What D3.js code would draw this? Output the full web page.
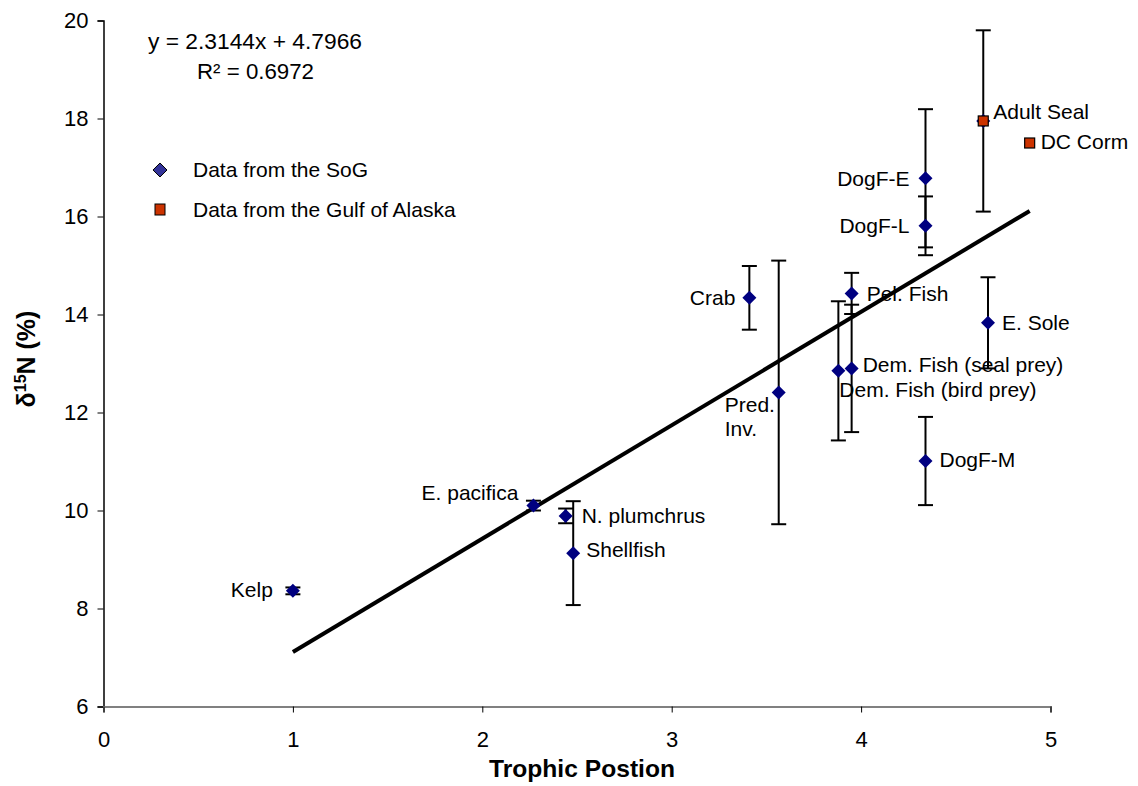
<!DOCTYPE html>
<html>
<head>
<meta charset="utf-8">
<script src="https://cdn.jsdelivr.net/npm/d3@7"></script>
<style>
  body { margin: 0; background: #fff; }
  svg { display: block; font-family: "Liberation Sans", Arial, sans-serif; }
</style>
</head>
<body>
<svg></svg>
<script>
const wSvg = 1138, hSvg = 786;

// data
const names    = ["Kelp", "E. pacifica", "N. plumchrus", "Shellfish", "Crab", "Pred. Inv.",
                  "Dem. Fish (bird prey)", "Dem. Fish (seal prey)", "Pel. Fish", "E. Sole",
                  "DogF-M", "DogF-E", "DogF-L", "Adult Seal", "DC Corm"];
const trophic  = [1.00, 2.27, 2.44, 2.48, 3.41, 3.565, 3.88, 3.95, 3.95, 4.67, 4.34, 4.34, 4.34, 4.645, 4.89];
const d15N     = [8.36, 10.10, 9.89, 9.13, 14.34, 12.41, 12.85, 12.90, 14.43, 13.83, 11.01, 16.78, 15.81, 17.95, 17.50];
const errN     = [0.07, 0.10, 0.15, 1.06, 0.65, 2.69, 1.42, 1.30, 0.42, 0.93, 0.90, 1.41, 0.60, 1.85, 0];
const source   = ["SoG", "SoG", "SoG", "SoG", "SoG", "SoG", "SoG", "SoG", "SoG", "SoG",
                  "SoG", "SoG", "SoG", "GoA", "GoA"];

const xTicks = [0, 1, 2, 3, 4, 5];
const yTicks = [6, 8, 10, 12, 14, 16, 18, 20];

const slope = 2.3144, intercept = 4.7966, rSquared = 0.6972;

const legendItems = [
    { key: "SoG", label: "Data from the SoG" },
    { key: "GoA", label: "Data from the Gulf of Alaska" }
];

// where each data label sits relative to its marker
const labelPlace = {
    "Kelp":                  { anchor: "end",   dx: -20, dy: 6 },
    "E. pacifica":           { anchor: "end",   dx: -15, dy: -6 },
    "N. plumchrus":          { anchor: "start", dx: 16,  dy: 7 },
    "Shellfish":             { anchor: "start", dx: 13,  dy: 4 },
    "Crab":                  { anchor: "end",   dx: -14, dy: 7 },
    "Pred. Inv.":            { anchor: "start", dx: -54, dy: 20 },
    "Dem. Fish (bird prey)": { anchor: "start", dx: 1,   dy: 26 },
    "Dem. Fish (seal prey)": { anchor: "start", dx: 11,  dy: 4 },
    "Pel. Fish":             { anchor: "start", dx: 15,  dy: 8 },
    "E. Sole":               { anchor: "start", dx: 14,  dy: 7 },
    "DogF-M":                { anchor: "start", dx: 14,  dy: 6 },
    "DogF-E":                { anchor: "end",   dx: -16, dy: 8 },
    "DogF-L":                { anchor: "end",   dx: -16, dy: 7 },
    "Adult Seal":            { anchor: "start", dx: 10,  dy: -2 },
    "DC Corm":               { anchor: "start", dx: 11,  dy: 6 }
};

const points = names.map((n, i) => ({
    name: n, x: trophic[i], y: d15N[i], err: errN[i], src: source[i]
}));

const svg = d3.select("svg")
    .attr("width", wSvg)
    .attr("height", hSvg);

const x = d3.scaleLinear().domain([0, 5]).range([103.5, 1050.5]);
const y = d3.scaleLinear().domain([6, 20]).range([706.5, 20.5]);

// axes
const xAxis = svg.append("g")
    .attr("transform", `translate(0,${y(6)})`)
    .call(d3.axisBottom(x).tickValues(xTicks).tickSize(6).tickPadding(19).tickFormat(d3.format("d")));
xAxis.select(".domain").attr("stroke", "#808080").attr("stroke-width", 2);
xAxis.selectAll(".tick line").attr("stroke", "#000");
xAxis.selectAll(".tick text").attr("font-size", 22).attr("fill", "#000")
    .attr("font-family", "Liberation Sans, Arial, sans-serif");

const yAxis = svg.append("g")
    .attr("transform", `translate(${x(0)},0)`)
    .call(d3.axisLeft(y).tickValues(yTicks).tickSize(6).tickPadding(9).tickFormat(d3.format("d")));
yAxis.select(".domain").attr("stroke", "#000").attr("stroke-width", 1.5);
yAxis.selectAll(".tick line").attr("stroke", "#000");
yAxis.selectAll(".tick text").attr("font-size", 22).attr("fill", "#000")
    .attr("font-family", "Liberation Sans, Arial, sans-serif");
// the x axis line is drawn over the y axis end
xAxis.raise();

// axis titles
svg.append("text")
    .attr("x", 582)
    .attr("y", 777)
    .attr("text-anchor", "middle")
    .attr("font-size", 24)
    .attr("font-weight", "bold")
    .attr("textLength", 186)
    .attr("lengthAdjust", "spacingAndGlyphs")
    .text("Trophic Postion");

const yTitle = svg.append("text")
    .attr("transform", `translate(35,359) rotate(-90)`)
    .attr("text-anchor", "middle")
    .attr("font-size", 25)
    .attr("font-weight", "bold");
yTitle.append("tspan").text("δ");
yTitle.append("tspan").attr("font-size", 16).attr("dy", -9).text("15");
yTitle.append("tspan").attr("dy", 9).text("N (%)");

// trend line across the data range
const xExt = d3.extent(trophic);
svg.append("line")
    .attr("x1", x(xExt[0])).attr("y1", y(slope * xExt[0] + intercept))
    .attr("x2", x(xExt[1])).attr("y2", y(slope * xExt[1] + intercept))
    .attr("stroke", "#000")
    .attr("stroke-width", 4);

// error bars
const bars = svg.append("g").selectAll("g")
    .data(points.filter(d => d.err > 0))
    .join("g")
    .attr("stroke", "#000")
    .attr("stroke-width", 2);
bars.append("line")
    .attr("x1", d => x(d.x)).attr("x2", d => x(d.x))
    .attr("y1", d => y(d.y - d.err)).attr("y2", d => y(d.y + d.err));
bars.append("line")
    .attr("x1", d => x(d.x) - 7.5).attr("x2", d => x(d.x) + 7.5)
    .attr("y1", d => y(d.y + d.err)).attr("y2", d => y(d.y + d.err));
bars.append("line")
    .attr("x1", d => x(d.x) - 7.5).attr("x2", d => x(d.x) + 7.5)
    .attr("y1", d => y(d.y - d.err)).attr("y2", d => y(d.y - d.err));

// markers: diamonds for every point, squares on top for Gulf of Alaska
const diamond = d3.symbol().type(d3.symbolDiamond2).size(125);
svg.append("g").selectAll("path")
    .data(points.filter(d => d.name !== "DC Corm"))
    .join("path")
    .attr("d", diamond)
    .attr("transform", d => `translate(${x(d.x)},${y(d.y)})`)
    .attr("fill", "#000080");

svg.append("g").selectAll("rect")
    .data(points.filter(d => d.src === "GoA"))
    .join("rect")
    .attr("x", d => x(d.x) - 5)
    .attr("y", d => y(d.y) - 5)
    .attr("width", 10)
    .attr("height", 10)
    .attr("fill", "#cc3300")
    .attr("stroke", "#000")
    .attr("stroke-width", 1.2);

// data labels (Pred. Inv. is wrapped onto two lines)
const labelLines = points.flatMap(d => {
    const p = labelPlace[d.name];
    const parts = d.name === "Pred. Inv." ? ["Pred.", "Inv."] : [d.name];
    return parts.map((s, i) => ({
        text: s, anchor: p.anchor,
        px: x(d.x) + p.dx,
        py: y(d.y) + p.dy + i * 24
    }));
});
svg.append("g").selectAll("text")
    .data(labelLines)
    .join("text")
    .attr("x", d => d.px)
    .attr("y", d => d.py)
    .attr("text-anchor", d => d.anchor)
    .attr("font-size", 21)
    .attr("fill", "#000")
    .text(d => d.text);

// regression equation
svg.append("text")
    .attr("x", 148).attr("y", 49)
    .attr("font-size", 22)
    .attr("textLength", 214)
    .attr("lengthAdjust", "spacingAndGlyphs")
    .text(`y = ${slope}x + ${intercept}`);
svg.append("text")
    .attr("x", 197).attr("y", 79)
    .attr("font-size", 22)
    .attr("textLength", 117)
    .attr("lengthAdjust", "spacingAndGlyphs")
    .text(`R² = ${rSquared}`);

// legend
const legend = svg.append("g").selectAll("g")
    .data(legendItems)
    .join("g")
    .attr("transform", (d, i) => `translate(160,${170 + i * 40})`);
legend.filter(d => d.key === "SoG").append("path")
    .attr("d", d3.symbol().type(d3.symbolDiamond2).size(125))
    .attr("fill", "#333399")
    .attr("stroke", "#000")
    .attr("stroke-width", 1);
legend.filter(d => d.key === "GoA").append("rect")
    .attr("x", -5).attr("y", -6).attr("width", 10).attr("height", 11)
    .attr("fill", "#cc3300")
    .attr("stroke", "#000")
    .attr("stroke-width", 1);
legend.append("text")
    .attr("x", 33)
    .attr("y", 7)
    .attr("font-size", 21)
    .text(d => d.label);
</script>
</body>
</html>
